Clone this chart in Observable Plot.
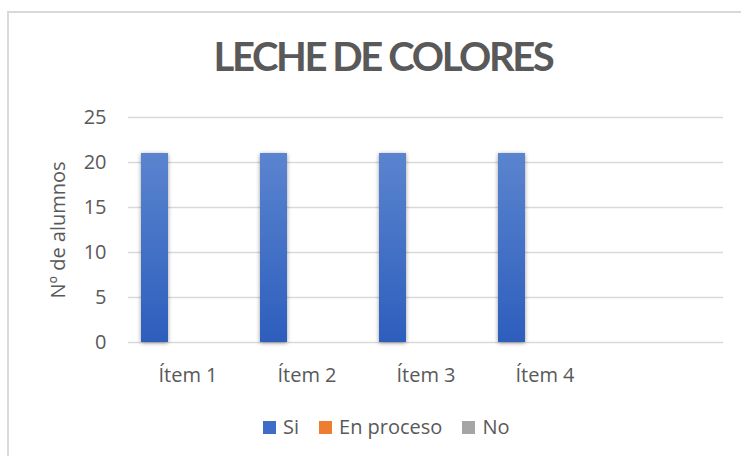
<!DOCTYPE html>
<html>
<head>
<meta charset="utf-8">
<script src="https://cdn.jsdelivr.net/npm/d3@7"></script>
<script src="https://cdn.jsdelivr.net/npm/@observablehq/plot@0.6"></script>
<style>
  html, body { margin: 0; padding: 0; background: #fff; }
  #wrap { position: relative; width: 741px; height: 456px; overflow: hidden; background: #fff; font-family: "Open Sans", sans-serif; color: #595959; }
  #frame { position: absolute; left: 7px; top: 11px; width: 800px; height: 500px; border: 2px solid #d9d9d9; box-sizing: border-box; pointer-events: none; }
  #title { position: absolute; left: 0; top: 32px; width: 766px; text-align: center; font-family: Lato, sans-serif; font-weight: 700; font-size: 40px; line-height: 48px; letter-spacing: -2.4px; color: #595959; white-space: nowrap; }
  #chart { position: absolute; left: 0; top: 95px; }
  #legend { position: absolute; left: 263px; top: 415px; height: 24px; display: flex; align-items: center; font-size: 20px; line-height: 24px; color: #595959; }
  #legend .item { display: flex; align-items: center; margin-right: 20px; }
  #legend .sw { width: 13px; height: 13px; margin-right: 7px; }
  g[aria-label="bar"] rect { filter: url(#barShadow); }
</style>
</head>
<body>
<div id="wrap">
  <div id="frame"></div>
  <div id="title"></div>
  <div id="chart"></div>
  <div id="legend"></div>
</div>
<script>
const title = "LECHE DE COLORES";
const yLabel = "Nº de alumnos";
const items = ["Ítem 1", "Ítem 2", "Ítem 3", "Ítem 4"];
const emptySlot = " ";
const series = ["Si", "En proceso", "No"];
const si = [21, 21, 21, 21];
const enProceso = [0, 0, 0, 0];
const no = [0, 0, 0, 0];
const yTicks = [0, 5, 10, 15, 20, 25];
const seriesColors = ["url(#gradSi)", "#ed7d31", "#a5a5a5"];
const legendColors = ["#3f6cc6", "#ed7d31", "#a5a5a5"];

const values = [si, enProceso, no];
const slots = [...items, emptySlot];
const data = items.flatMap((it, i) => series.map((s, k) => ({item: it, serie: s, value: values[k][i]})));
const gridData = slots.flatMap(slot => yTicks.map(t => ({slot, t})));

document.getElementById("title").textContent = title;

const chart = Plot.plot({
  width: 741,
  height: 300,
  marginLeft: 126,
  marginRight: 16,
  marginTop: 22,
  marginBottom: 53,
  style: {fontFamily: "'Open Sans', sans-serif", fontSize: "20px", color: "#595959", background: "transparent", overflow: "visible"},
  fx: {domain: slots, padding: 0, axis: "bottom", label: null, tickSize: 0, tickPadding: 25},
  x: {domain: series, axis: null, paddingInner: 0, paddingOuter: 0.643, align: 0.33},
  y: {domain: [0, 25], axis: null},
  color: {domain: series, range: seriesColors},
  marks: [
    Plot.gridY(gridData, {fx: "slot", y: "t", stroke: "#d9d9d9", strokeOpacity: 1, strokeWidth: 1.4}),
    Plot.axisY(yTicks, {tickSize: 0, tickPadding: 22, label: yLabel, labelAnchor: "center", labelArrow: false, labelOffset: 78, fill: "#595959"}),
    Plot.barY(data, {fx: "item", x: "serie", y: "value", fill: "serie"})
  ]
});

const ns = "http://www.w3.org/2000/svg";
const defs = document.createElementNS(ns, "defs");
const grad = document.createElementNS(ns, "linearGradient");
grad.setAttribute("id", "gradSi");
grad.setAttribute("x1", "0"); grad.setAttribute("y1", "0");
grad.setAttribute("x2", "0"); grad.setAttribute("y2", "1");
[["0%", "#5b84cf"], ["100%", "#2d5ebd"]].forEach(([o, c]) => {
  const st = document.createElementNS(ns, "stop");
  st.setAttribute("offset", o); st.setAttribute("stop-color", c);
  grad.appendChild(st);
});
defs.appendChild(grad);
const filt = document.createElementNS(ns, "filter");
filt.setAttribute("id", "barShadow");
filt.setAttribute("x", "-40%"); filt.setAttribute("y", "-10%");
filt.setAttribute("width", "180%"); filt.setAttribute("height", "120%");
const ds = document.createElementNS(ns, "feDropShadow");
ds.setAttribute("dx", "0"); ds.setAttribute("dy", "1");
ds.setAttribute("stdDeviation", "2.2");
ds.setAttribute("flood-color", "#000"); ds.setAttribute("flood-opacity", "0.4");
filt.appendChild(ds);
defs.appendChild(filt);
chart.insertBefore(defs, chart.firstChild);

document.getElementById("chart").appendChild(chart);

const legend = document.getElementById("legend");
series.forEach((s, k) => {
  const it = document.createElement("div");
  it.className = "item";
  const sw = document.createElement("div");
  sw.className = "sw";
  sw.style.background = legendColors[k];
  const tx = document.createElement("span");
  tx.textContent = s;
  it.appendChild(sw); it.appendChild(tx);
  legend.appendChild(it);
});
</script>
</body>
</html>
